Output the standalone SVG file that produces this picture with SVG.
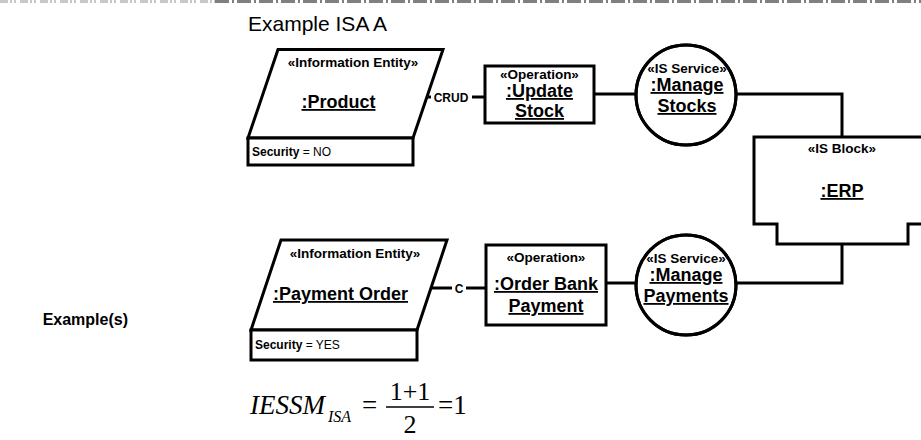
<svg xmlns="http://www.w3.org/2000/svg" width="921" height="440" viewBox="0 0 921 440">
<style>
.s{fill:#fff;stroke:#000;stroke-width:3}
.l{fill:none;stroke:#000;stroke-width:3}
.t{font-family:"Liberation Sans",Arial,sans-serif;fill:#000}
.b{font-weight:bold}
.st{font-size:13.5px;font-weight:bold;text-anchor:middle}
.nm{font-size:18px;font-weight:bold;text-anchor:middle;text-decoration:underline}
.sec{font-size:12px}
.m{font-family:"Liberation Serif","Times New Roman",serif;fill:#000}
</style>
<rect width="921" height="440" fill="#fff"/>
<g id="border">
<line x1="0" y1="1.5" x2="215" y2="1.5" stroke="#c8c8c8" stroke-width="3" stroke-dasharray="8 2 2 2 2 4"/>
<line x1="215" y1="1.5" x2="921" y2="1.5" stroke="#808080" stroke-width="3" stroke-dasharray="14 3 2 3"/>
</g>
<text class="t" x="248" y="31" font-size="21">Example ISA A</text>
<text class="t b" x="128" y="325" font-size="16" text-anchor="end">Example(s)</text>
<g id="connectors">
<line class="l" x1="424" y1="97" x2="431" y2="97"/>
<line class="l" x1="472" y1="97" x2="486" y2="97"/>
<text class="t b" x="451" y="101.5" font-size="12" text-anchor="middle">CRUD</text>
<line class="l" x1="594" y1="94" x2="637" y2="94"/>
<polyline class="l" points="735,94 842,94 842,137"/>
<polyline class="l" points="842,244 842,283 735,283"/>
<line class="l" x1="606" y1="283" x2="637" y2="283"/>
<line class="l" x1="430" y1="288" x2="452" y2="288"/>
<line class="l" x1="466" y1="288" x2="487" y2="288"/>
<text class="t b" x="459" y="292.5" font-size="12" text-anchor="middle">C</text>
</g>
<g id="product">
<polygon class="s" points="278,49.5 443,49.5 413,138 248,138"/>
<rect class="s" x="248" y="138" width="165" height="27"/>
<text class="t st" x="353" y="67">«Information Entity»</text>
<text class="t nm" x="338.5" y="108">:Product</text>
<text class="t sec" x="252" y="156"><tspan class="b">Security</tspan> = NO</text>
</g>
<g id="updateStock">
<rect class="s" x="485" y="66" width="109" height="57"/>
<text class="t st" x="539.5" y="78.5">«Operation»</text>
<text class="t nm" x="539.5" y="97">:Update</text>
<text class="t nm" x="539.5" y="117">Stock</text>
</g>
<g id="manageStocks">
<circle class="s" cx="686" cy="95" r="50"/>
<text class="t st" x="687" y="73">«IS Service»</text>
<text class="t nm" x="687" y="91">:Manage</text>
<text class="t nm" x="687" y="112">Stocks</text>
<circle cx="686" cy="95" r="50" fill="none" stroke="#000" stroke-width="3"/>
</g>
<g id="erp">
<path class="s" d="M925,137 H754 V224 H777 V244 H908 V224 H925"/>
<text class="t st" x="842" y="153">«IS Block»</text>
<text class="t nm" x="842" y="197">:ERP</text>
</g>
<g id="paymentOrder">
<polygon class="s" points="281,240 447,240 417,330 251,330"/>
<rect class="s" x="251" y="330" width="166" height="30"/>
<text class="t st" x="355" y="258">«Information Entity»</text>
<text class="t nm" x="340.5" y="300">:Payment Order</text>
<text class="t sec" x="255" y="349"><tspan class="b">Security</tspan> = YES</text>
</g>
<g id="orderBankPayment">
<rect class="s" x="486" y="245" width="120" height="80"/>
<text class="t st" x="546" y="262">«Operation»</text>
<text class="t nm" x="546" y="290">:Order Bank</text>
<text class="t nm" x="546" y="312">Payment</text>
</g>
<g id="managePayments">
<circle class="s" cx="686" cy="285" r="50"/>
<text class="t st" x="686" y="263">«IS Service»</text>
<text class="t nm" x="686" y="281">:Manage</text>
<text class="t nm" x="686" y="302">Payments</text>
<circle cx="686" cy="285" r="50" fill="none" stroke="#000" stroke-width="3"/>
</g>
<g id="formula">
<text class="m" x="250" y="414" font-size="27" font-style="italic">IESSM</text>
<text class="m" x="328" y="422" font-size="16" font-style="italic">ISA</text>
<text class="m" x="362" y="414" font-size="27">=</text>
<text class="m" x="410" y="400" font-size="26" text-anchor="middle">1+1</text>
<line x1="386" y1="407" x2="434" y2="407" stroke="#000" stroke-width="1.3"/>
<text class="m" x="410" y="433" font-size="26" text-anchor="middle">2</text>
<text class="m" x="438" y="414" font-size="27">=1</text>
</g>
</svg>
